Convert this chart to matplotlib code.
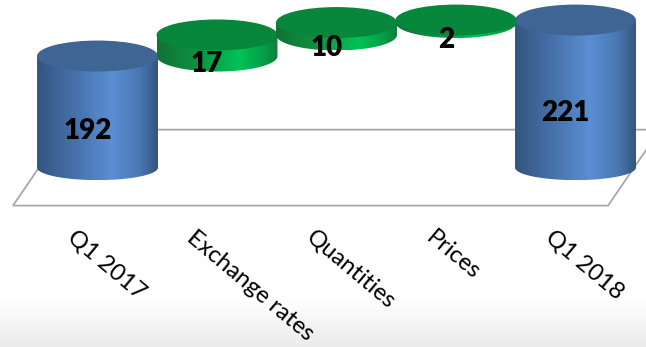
import numpy as np
import matplotlib.pyplot as plt
from matplotlib.patches import Ellipse, Polygon
from matplotlib.colors import to_rgb
from matplotlib.transforms import blended_transform_factory

#waterfall values: opening total, the three drivers, closing total
categories = ['Q1 2017', 'Exchange rates', 'Quantities', 'Prices', 'Q1 2018']
values = [192, 17, 10, 2, 221]
is_total = [True, False, False, False, True]

BASE = 102   #value at the chart floor
PX = 1.24    #screen pixels per value unit

fig = plt.figure(figsize=(6.46, 3.47), dpi=100)
ax = fig.add_axes([0, 0, 1, 1])
XLIM = (-0.816, 4.590)
YLIM = (-42.7, 237.2)


def px(n):
    #vertical pixels to value units
    return n/PX


R = 0.506
TOP_H = px(15.5)
BOT_H = px(12.5)


def gradient(stops, n=256):
    #colour ramp from (position, colour) pairs
    pos = [p for p, c in stops]
    cols = np.array([to_rgb(c) for p, c in stops])
    xs = np.linspace(0, 1, n)
    return np.stack([np.interp(xs, pos, cols[:, k]) for k in range(3)], axis=-1)


blue_side = gradient([(0, '#34557f'), (0.3, '#4670a8'), (0.62, '#5a8fd3'), (0.85, '#4a77b3'), (1, '#34557f')])
green_side = gradient([(0, '#137235'), (0.35, '#0b9443'), (0.68, '#00c255'), (0.88, '#05a048'), (1, '#0e7f3b')])
blue_top = '#3e6593'
green_top = '#06873b'


def draw_cylinder(cx, v0, v1, side, top, hb, z):
    t = np.linspace(np.pi, 2*np.pi, 80)
    lower = np.column_stack([cx + R*np.cos(t), v0 + hb*np.sin(t)])
    verts = np.vstack([[cx - R, v1], lower, [cx + R, v1]])
    poly = Polygon(verts, closed=True, facecolor='none', edgecolor='none', zorder=z)
    ax.add_patch(poly)
    im = ax.imshow(side[None, :, :], extent=(cx - R, cx + R, v0 - hb, v1),
                   aspect='auto', interpolation='bilinear', zorder=z)
    im.set_clip_path(poly)
    ax.add_patch(Ellipse((cx, v1), 2*R, 2*TOP_H, facecolor=top, edgecolor='none', zorder=z + 0.1))


#soft grey band at the bottom of the slide
band = gradient([(0, '#ffffff'), (1, '#ebebeb')], 100)[:, None, :]
ax.imshow(band, extent=(0, 1, 0, 0.14), transform=ax.transAxes, origin='upper',
          aspect='auto', zorder=0, interpolation='bilinear')

#floor of the chart
depth = px(38)
skew = 0.2175
floor = [(-0.49 + skew, BASE + depth), (4.49 + skew, BASE + depth),
         (4.49 - skew, BASE - depth), (-0.49 - skew, BASE - depth)]
ax.add_patch(Polygon(floor, closed=True, facecolor='white', edgecolor='#a3a3a3', lw=1.2, zorder=1))

running = 0
bars = []
for i, (val, tot) in enumerate(zip(values, is_total)):
    if tot:
        lo, hi = BASE, val
        running = val
    else:
        lo, hi = running, running + val
        running = running + val
    bars.append((i, lo, hi, val, tot))

#blue totals first, green steps over them
for i, lo, hi, val, tot in bars:
    if tot:
        draw_cylinder(i, lo, hi, blue_side, blue_top, BOT_H, 2)
for i, lo, hi, val, tot in bars:
    if not tot:
        draw_cylinder(i, lo, hi, green_side, green_top, TOP_H, 3 + i*0.2)

for i, lo, hi, val, tot in bars:
    ax.annotate(str(val), (i, (lo + hi)/2), xytext=(-10, -19), textcoords='offset pixels',
                ha='center', va='center', fontsize=20, fontweight='heavy', family='Lato',
                color='black', zorder=10)

trans = blended_transform_factory(ax.transData, ax.transAxes)
for i, cat in enumerate(categories):
    ax.text(i - 0.17, 0.347, cat, transform=trans, rotation=-40, rotation_mode='anchor',
            ha='left', va='top', fontsize=17.2, family='Lato', color='black')

ax.set_xlim(*XLIM)
ax.set_ylim(*YLIM)
ax.axis('off')
fig.savefig('out.png', dpi=100, facecolor='white')
